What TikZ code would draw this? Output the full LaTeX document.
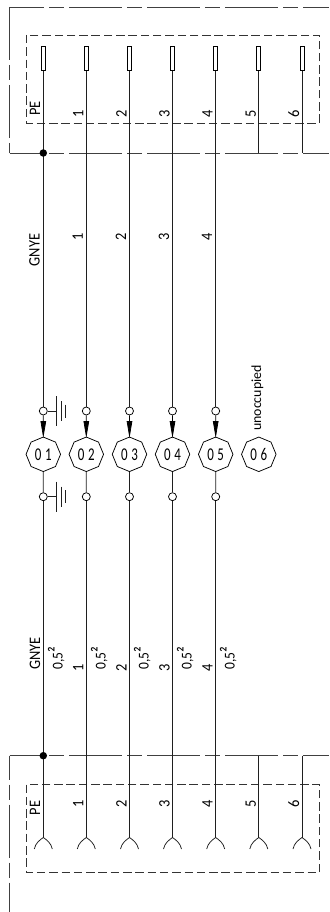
\documentclass[tikz,border=0pt]{standalone}
\usepackage{fontspec}
\setmainfont{Carlito}
\newfontfamily\isofont[FakeStretch=0.9]{Carlito}
\newfontfamily\plugfont[FakeStretch=0.72,LetterSpace=20]{Carlito}
\usetikzlibrary{shapes.geometric,arrows.meta}
\definecolor{wirec}{gray}{0.12}
\tikzset{
 x=1pt,y=-1pt,
 wire/.style={line width=0.75pt,draw=wirec},
 bus/.style={line width=0.75pt,draw=black!75,dash pattern=on 53pt off 5pt on 15pt off 5pt},
 inner/.style={line width=0.75pt,draw=black!80,dash pattern=on 8.5pt off 3.8pt},
 plug/.style={regular polygon,regular polygon sides=8,shape border rotate=22.5,draw=black,line width=0.75pt,minimum size=34.5pt,inner sep=0pt,font=\plugfont\fontsize{18}{18}\selectfont},
 joint/.style={circle,draw=black,line width=0.75pt,fill=white,minimum size=8pt,inner sep=0pt},
 lab/.style={rotate=90,inner sep=0pt,font=\isofont\fontsize{16}{16}\selectfont},
 pin/.style={rectangle,draw=black,line width=0.75pt,minimum width=4pt,minimum height=24pt,inner sep=0pt},
 dotj/.style={circle,fill=black,minimum size=7.5pt,inner sep=0pt},
 arr/.style={line width=0.75pt,shorten >=-1.5pt,-{Triangle[length=17pt,width=5.5pt]}},
}
\begin{document}
\begin{tikzpicture}
\useasboundingbox (0,0) rectangle (329,912);
\fill[white] (0,0) rectangle (329,912);
% outer frames
\draw[bus,dash phase=18.5pt] (9.5,7) -- (329,7);
\draw[bus] (9.5,7) -- (9.5,153);
\draw[bus,dash phase=18.5pt] (9.5,153) -- (329,153);
\draw[bus,dash phase=18.5pt] (9.5,755.7) -- (329,755.7);
\draw[bus,dash phase=29pt] (9.5,755.7) -- (9.5,912);
% inner frames
\draw[inner] (26.3,35) rectangle (319.5,123);
\draw[inner] (26.3,784.5) rectangle (319.5,872.3);
\foreach \n/\x in {a/43.3,b/86.3,c/129.5,d/172.5,e/215.7,f/258.8,g/302}{
 \node[pin] (pin\n) at (\x,58.7) {};
 \coordinate (ts\n) at (\x,837.5);
 \draw[wire] (\x-9,849) .. controls (\x-7.8,843) and (\x-3.5,840) .. (ts\n) .. controls (\x+3.5,840) and (\x+7.8,843) .. (\x+9,849);
}
\foreach \x/\t in {86.3/1,129.5/2,172.5/3,215.7/4,258.8/5,302/6}{
 \node[lab,anchor=base] at (\x-3,113.5) {\t};
 \node[lab,anchor=base] at (\x-3,803.5) {\t};
}
\node[lab,anchor=base] (pe1) at (40,108.5) {PE};
\node[lab,anchor=base] (pe2) at (40,808) {PE};
% plugs
\foreach \n/\x/\t in {a/43.3/01,b/86.3/02,c/129.5/03,d/172.5/04,e/215.7/05,f/258.8/06}{
 \node[plug] (p\n) at (\x,454.3) {\t};
}
\foreach \n/\x in {a/43.3,b/86.3,c/129.5,d/172.5,e/215.7}{
 \node[joint] (u\n) at (\x,411) {};
 \node[joint] (l\n) at (\x,496.7) {};
 \draw[wire] (pin\n.south) -- (u\n);
 \draw[arr] (u\n) -- (p\n.north);
 \draw[wire] (p\n.south) -- (l\n);
 \draw[wire] (l\n) -- (ts\n);
}
\coordinate (jf) at (258.8,153);
\coordinate (jg) at (302,153);
\coordinate (kf) at (258.8,755.7);
\coordinate (kg) at (302,755.7);
\draw[wire] (pinf.south) -- (jf);
\draw[wire] (ping.south) -- (jg);
\draw[wire] (kf) -- (tsf);
\draw[wire] (kg) -- (tsg);
\node[dotj] (d1) at (43.3,153) {};
\node[dotj] (d2) at (43.3,755.7) {};
% grounds
\foreach \j/\y in {ua/411,la/496.7}{
 \coordinate (g\j) at (56.5,\y);
 \draw[wire] (\j) -- (g\j);
 \draw[wire] (56.5,\y-15) -- (56.5,\y+15);
 \draw[wire] (61,\y-10) -- (61,\y+10);
 \draw[wire] (65,\y-6.5) -- (65,\y+6.5);
}
% labels
\node[rotate=90,inner sep=0pt,anchor=base west,font=\fontsize{13.9}{14}\selectfont] at (261,431) {unoccupied};
\foreach \x/\t in {86.3/1,129.5/2,172.5/3,215.7/4}{
 \node[lab,anchor=base] at (\x-3.5,237) {\t};
 \node[lab,anchor=base] at (\x-3,668) {\t};
}
\node[lab,anchor=base] at (39.5,250) {GNYE};
\node[lab,anchor=base] at (40,653.5) {GNYE};
\foreach \x in {62.7,105.7,148.7,191.7,234.7}{
 \node[lab,anchor=base west] at (\x,669.5) {\fontsize{15}{15}\selectfont 0,5{\fontsize{19}{19}\selectfont ²}};
}
\end{tikzpicture}
\end{document}
